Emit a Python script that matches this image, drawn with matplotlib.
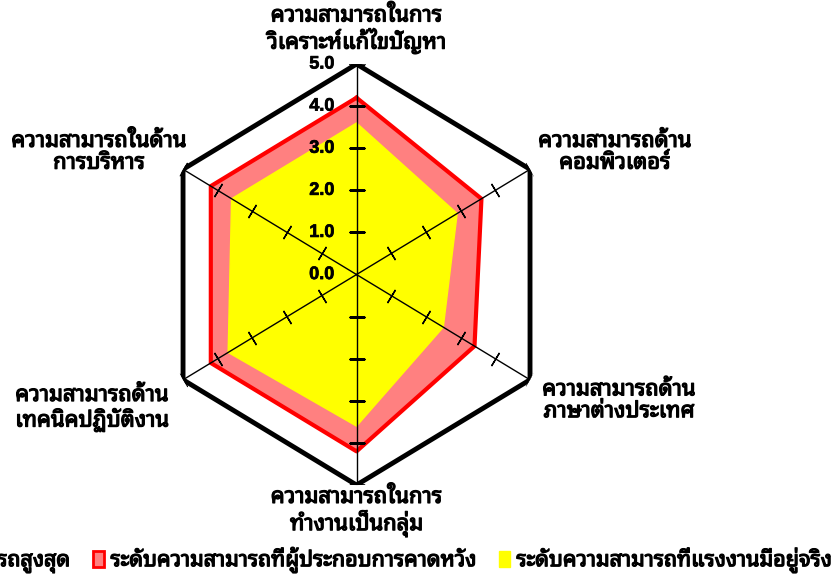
import numpy as np
import matplotlib
matplotlib.use('Agg')
import matplotlib.pyplot as plt
import matplotlib.patheffects as pe
from matplotlib.transforms import offset_copy
from matplotlib.patches import Patch

categories = ['ความสามารถในการ\nวิเคราะห์แก้ไขปัญหา',
              'ความสามารถด้าน\nคอมพิวเตอร์',
              'ความสามารถด้าน\nภาษาต่างประเทศ',
              'ความสามารถในการ\nทำงานเป็นกลุ่ม',
              'ความสามารถด้าน\nเทคนิคปฏิบัติงาน',
              'ความสามารถในด้าน\nการบริหาร']
max_level = [5.0, 5.0, 5.0, 5.0, 5.0, 5.0]
expected = [4.2, 3.6, 3.4, 4.2, 4.2, 4.2]
actual = [3.6, 2.9, 2.5, 3.6, 3.7, 3.6]
r_ticks = [0, 1, 2, 3, 4, 5]
series_names = ['ระดับความสามารถสูงสุด',
                'ระดับความสามารถที่ผู้ประกอบการคาดหวัง',
                'ระดับความสามารถที่แรงงานมีอยู่จริง']

# label offsets from the outer vertex (dots)
label_offsets = [(0, 34), (85, 17), (89, -21), (0, -27), (-91, -29), (-84, 17)]

plt.rcParams['font.family'] = ['Noto Sans Thai Looped', 'DejaVu Sans']
# the Thai font has no bold face here, so thicken it with a thin outline
bold = [pe.withStroke(linewidth=0.9, foreground='black')]

fig = plt.figure(figsize=(8.34, 5.74), dpi=100)
ax = fig.add_axes([0.1873, 0.155, 0.4804, 0.7334], projection='polar')
ax.set_aspect('auto')
ax.set_theta_zero_location('N')
ax.set_theta_direction(-1)
ax.set_ylim(0, 5)
ax.axis('off')

n = len(categories)
theta = np.linspace(0, 2 * np.pi, n, endpoint=False)
closed = np.append(theta, theta[0])

def close(vals):
    return list(vals) + [vals[0]]

ax.plot(closed, close(max_level), color='black', lw=3.5, zorder=2)
ax.fill(closed, close(expected), color='#FF8080', zorder=2)
ax.plot(closed, close(expected), color='#FF0000', lw=3, zorder=3)
ax.fill(closed, close(actual), color='#FFFF00', zorder=4)

# spokes with cross ticks
sx = 0.4804 * 834 / (0.7334 * 574)
for t in theta:
    ax.plot([t, t], [0, 5], color='black', lw=1, zorder=5)
    ang = np.degrees(np.arctan2(-sx * np.sin(t), np.cos(t))) + 90
    ax.plot([t] * (len(r_ticks) - 1), r_ticks[1:], ls='none',
            marker=(2, 2, ang), ms=11, mew=1, color='black', zorder=6)

# scale labels on the top spoke
tr = offset_copy(ax.transData, fig=fig, x=-22, y=0, units='dots')
for v in r_ticks:
    ax.text(0, v, '%.1f' % v, transform=tr, ha='right', va='center',
            family='Liberation Sans', weight='bold', fontsize=13, zorder=7,
            path_effects=[pe.withStroke(linewidth=0.5, foreground='black')])

# category labels
for t, lab, (dx, dy) in zip(theta, categories, label_offsets):
    trl = offset_copy(ax.transData, fig=fig, x=dx, y=dy, units='dots')
    ax.text(t, 5, lab, transform=trl, ha='center', va='center',
            multialignment='center', fontsize=15.8, linespacing=1.05,
            path_effects=bold)

handles = [Patch(facecolor='white', edgecolor='black', lw=1.5),
           Patch(facecolor='#FF8080', edgecolor='#FF0000', lw=2),
           Patch(facecolor='#FFFF00', edgecolor='#FFFF00')]
leg = fig.legend(handles, series_names, ncol=3, loc='center',
                 bbox_to_anchor=(0.404, 0.024), frameon=False, fontsize=15.5,
                 handlelength=0.5, handleheight=0.75, handletextpad=0.3,
                 columnspacing=1.1)
for txt in leg.get_texts():
    txt.set_path_effects(bold)

fig.savefig('out.png')
